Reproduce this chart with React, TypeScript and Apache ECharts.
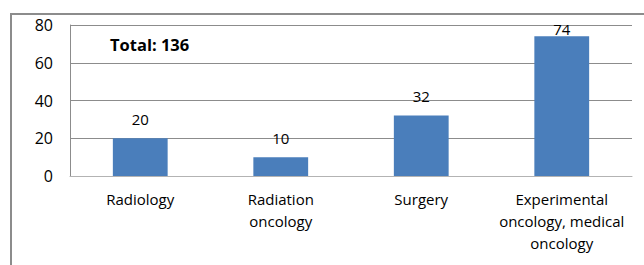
import React, { useEffect, useRef } from "react";
import * as echarts from "echarts";

const categories: string[] = [
  "Radiology",
  "Radiation\noncology",
  "Surgery",
  "Experimental\noncology, medical\noncology",
];
const values: number[] = [20, 10, 32, 74];
const yTicks = { min: 0, max: 80, interval: 20 };
const totalLabel = "Total: 136";

export default function App() {
  const ref = useRef<HTMLDivElement>(null);
  useEffect(() => {
    document.body.style.margin = "0";
    const chart = echarts.init(ref.current!, null, { renderer: "svg" });
    const font = "'Open Sans', 'Noto Sans', sans-serif";
    const barData = values.map((v, i) =>
      i === values.length - 1 ? { value: v, label: { distance: 0 } } : v
    );
    chart.setOption({
      animation: false,
      backgroundColor: "#ffffff",
      textStyle: { fontFamily: font },
      grid: { left: 70, top: 25, right: 12, bottom: 89, containLabel: false },
      graphic: [
        {
          type: "rect",
          shape: { x: 11, y: 14, width: 700, height: 400 },
          style: { fill: "none", stroke: "#8c8c8c", lineWidth: 2 },
          silent: true,
          z: -1,
        },
        {
          type: "text",
          left: 110,
          top: 36,
          style: {
            text: totalLabel,
            fontFamily: font,
            fontSize: 16.5,
            fontWeight: "bold",
            fill: "#000000",
          },
        },
      ],
      xAxis: {
        type: "category",
        data: categories,
        axisLine: { show: true, lineStyle: { color: "#b3b3b3", width: 1 } },
        axisTick: { show: false },
        axisLabel: {
          interval: 0,
          margin: 12,
          fontSize: 15,
          lineHeight: 22,
          color: "#000000",
          fontFamily: font,
        },
      },
      yAxis: {
        type: "value",
        min: yTicks.min,
        max: yTicks.max,
        interval: yTicks.interval,
        axisLine: { show: true, lineStyle: { color: "#8c8c8c", width: 1 } },
        axisTick: { show: false },
        axisLabel: { margin: 17, fontSize: 16, color: "#000000", fontFamily: font },
        splitLine: { show: true, lineStyle: { color: "#8c8c8c", width: 1 } },
      },
      series: [
        {
          type: "bar",
          data: barData,
          barWidth: "39%",
          itemStyle: { color: "#4a7ebb" },
          label: {
            show: true,
            position: "top",
            distance: 12,
            fontSize: 15,
            color: "#000000",
            fontFamily: font,
          },
        },
      ],
    });
    return () => chart.dispose();
  }, []);
  return <div ref={ref} style={{ width: 644, height: 265 }} />;
}
